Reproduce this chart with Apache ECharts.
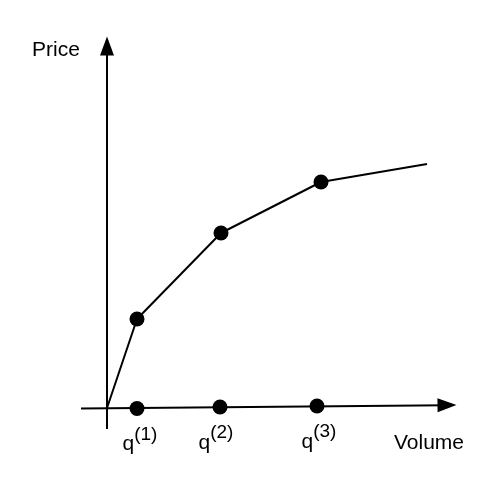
<!DOCTYPE html>
<html>
<head>
<meta charset="utf-8">
<script src="https://cdn.jsdelivr.net/npm/echarts@6/dist/echarts.min.js"></script>
<style>
  html, body { margin: 0; padding: 0; background: #fff; }
  #chart { width: 498px; height: 481px; }
</style>
</head>
<body>
<div id="chart"></div>
<script>
// supply curve, measured from where the two axes cross
const curveVolume = [0, 30, 114, 214, 320];
const curvePrice = [0, 89, 175, 226, 244];
// the three marked quantities sitting on the volume axis
const qVolume = [30, 113, 210];
const qLevel = [-0.5, 1, 2];
const qNames = ['(1)', '(2)', '(3)'];
// axis lines (the volume axis leans up a little to the right)
const volumeAxisFrom = [-26, -0.5];
const volumeAxisTo = [340, 2.8];
const priceAxisFrom = [0, -21];
const priceAxisTo = [0, 362];

const FONT = 'Liberation Sans, Arial, Helvetica, sans-serif';
const labelShift = [3, -4, 2];

const chart = echarts.init(document.getElementById('chart'));

const curveData = curveVolume.map((v, i) => [v, curvePrice[i]]);
const dotData = curveData.slice(1, 4);
const qData = qVolume.map((v, i) => ({
  value: [v, qLevel[i]],
  name: qNames[i],
  label: { offset: [labelShift[i], 0] }
}));

chart.setOption({
  animation: false,
  backgroundColor: '#fff',
  grid: { left: 0, right: 0, top: 0, bottom: 0 },
  xAxis: { type: 'value', min: -107, max: 391, show: false },
  yAxis: { type: 'value', min: -73, max: 408, show: false },
  graphic: [
    {
      type: 'text', left: 32, top: 40,
      style: { text: 'Price', fill: '#000', font: '21px ' + FONT }
    },
    {
      type: 'text', left: 394, top: 433,
      style: { text: 'Volume', fill: '#000', font: '21px ' + FONT }
    }
  ],
  series: [
    {
      type: 'line',
      data: curveData,
      showSymbol: false,
      silent: true,
      lineStyle: { color: '#000', width: 2 },
      markLine: {
        silent: true,
        symbol: ['none', 'triangle'],
        symbolSize: [14, 19],
        label: { show: false },
        lineStyle: { color: '#000', width: 2, type: 'solid' },
        itemStyle: { color: '#000' },
        data: [
          [{ coord: volumeAxisFrom }, { coord: volumeAxisTo }],
          [{ coord: priceAxisFrom }, { coord: priceAxisTo }]
        ]
      }
    },
    {
      type: 'scatter',
      data: dotData,
      symbolSize: 15,
      silent: true,
      itemStyle: { color: '#000', opacity: 1 }
    },
    {
      type: 'scatter',
      data: qData,
      symbolSize: 15,
      silent: true,
      itemStyle: { color: '#000', opacity: 1 },
      label: {
        show: true,
        position: 'bottom',
        distance: 9,
        formatter: p => '{q|q}{s|' + p.name + '}',
        rich: {
          q: { fontSize: 21, fontFamily: FONT, color: '#000', lineHeight: 30, verticalAlign: 'bottom' },
          s: { fontSize: 19, fontFamily: FONT, color: '#000', lineHeight: 6, verticalAlign: 'top' }
        }
      }
    }
  ]
});
</script>
</body>
</html>
